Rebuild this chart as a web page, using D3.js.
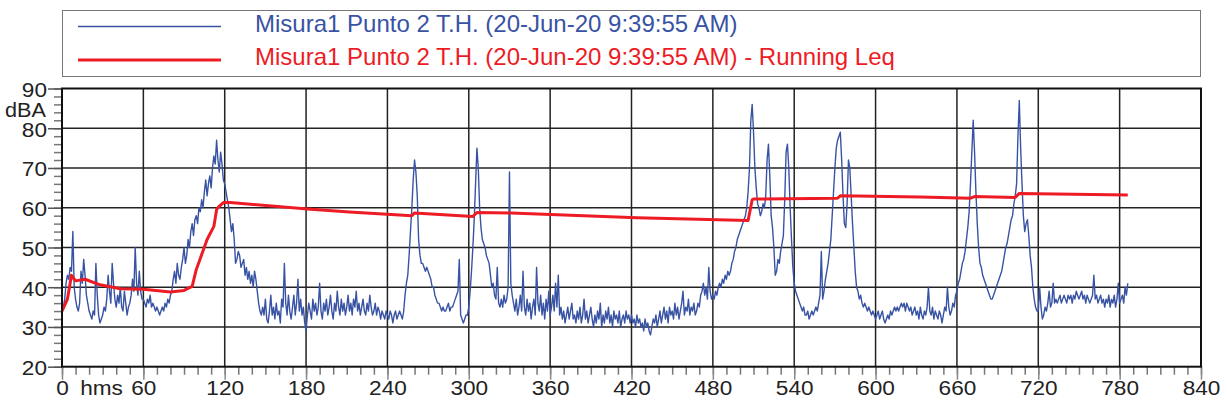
<!DOCTYPE html>
<html><head><meta charset="utf-8">
<script src="https://cdn.jsdelivr.net/npm/d3@7"></script>
<style>
body{margin:0;background:#fff;}
svg{display:block;font-family:"Liberation Sans",Arial,Helvetica,sans-serif;}
</style></head>
<body><svg id="c" width="1227" height="410"></svg>
<script>
// ---- data ----
const seriesNames = ["Misura1 Punto 2 T.H. (20-Jun-20 9:39:55 AM)",
                     "Misura1 Punto 2 T.H. (20-Jun-20 9:39:55 AM) - Running Leq"];
const blueStep = 1; // seconds between samples
const blueValues = [
34,35,37,41,43,42,45,44,54,40,
37,35,34,36,44,41,47,43,38,36,
34,33,32,34,33,46,38,33,31,32,
33,35,34,37,43,39,36,46,41,37,
35,38,36,40,35,34,39,36,33,35,
36,38,42,39,50,41,38,44,39,37,
37,36,35,37,36,38,35,36,35,34,
35,34,33,34,35,34,36,35,37,36,
38,39,42,44,41,46,43,42,45,47,
50,46,48,52,50,54,56,53,57,58,
56,60,59,62,60,64,67,63,66,68,
65,70,73,71,77,72,69,74,71,67,
66,64,62,60,57,54,56,52,46,47,
49,48,45,46,47,43,45,42,44,41,
43,40,44,42,39,36,34,33,35,33,
37,32,31,34,38,33,35,32,36,33,
34,31,37,35,46,36,33,38,34,32,
35,38,33,36,42,34,37,33,35,31,
29,33,36,34,32,37,34,36,33,35,
41,34,32,36,34,37,33,35,38,34,
32,36,34,39,35,33,37,34,36,33,
35,38,34,36,33,37,35,39,34,36,
33,35,37,34,33,36,34,38,35,33,
34,36,33,35,34,32,34,33,32,34,
33,32,34,33,31,33,34,32,33,34,
33,32,34,38,41,43,48,54,60,67,
72,69,63,52,48,46,46,45,44,45,
44,43,42,40,40,38,37,36,36,35,
34,35,34,34,35,36,34,35,35,36,
37,38,39,47,33,32,31,32,33,33,
35,39,44,50,57,66,75,70,60,55,
52,51,50,48,47,46,43,40,41,38,
37,45,36,35,37,35,38,36,37,40,
69,41,38,36,34,37,33,35,38,34,
44,35,33,37,34,36,32,35,37,33,
45,36,34,38,33,36,32,37,34,39,
33,35,38,34,41,35,43,33,35,32,
34,31,33,35,32,34,36,32,33,31,
34,32,35,31,33,37,32,34,31,33,
35,32,30,33,31,34,32,36,30,33,
31,34,32,35,31,33,30,34,32,33,
31,34,30,32,33,31,34,32,33,31,
33,31,32,30,33,31,32,30,31,29,
32,30,31,29,28,30,32,31,33,30,
32,34,31,33,35,32,34,31,35,33,
34,32,36,33,35,32,34,36,39,33,
35,34,37,33,35,34,36,33,34,36,
35,38,39,41,38,40,37,45,39,37,
38,37,39,38,40,41,40,42,41,43,
42,44,43,44,46,47,49,50,52,53,
54,55,56,57,58,60,64,70,82,86,
79,70,65,61,60,58,59,61,60,63,
72,76,68,58,55,50,43,44,47,46,
49,51,53,62,74,76,70,60,52,45,
41,39,38,37,36,35,34,35,33,33,
34,32,33,34,33,34,35,34,36,38,
49,37,39,42,44,46,49,52,58,64,
70,75,77,78,79,72,63,56,55,61,
72,70,63,56,50,44,40,39,37,38,
36,35,36,35,34,35,34,33,34,33,
32,33,34,32,33,34,32,31,32,33,
32,34,33,34,35,34,35,34,35,36,
35,36,34,36,35,34,35,33,34,35,
33,34,32,35,33,32,34,33,35,40,
34,33,35,32,34,33,32,34,33,31,
33,35,34,40,35,33,34,36,35,38,
39,41,42,44,46,47,49,52,55,59,
66,74,82,74,64,56,50,46,45,43,
42,41,40,39,38,37,37,38,39,40,
41,42,43,44,46,48,50,51,53,55,
57,58,61,63,66,78,87,75,66,58,
54,56,57,53,48,45,40,37,35,34,
34,40,35,32,33,35,34,36,39,35,
36,41,36,37,36,37,38,36,37,38,
37,36,38,37,38,36,38,37,39,38,
37,38,39,37,38,36,38,37,36,37,
38,43,37,38,36,37,38,36,37,35,
37,36,38,35,37,36,38,35,37,41,
36,37,38,36,40,38,41
];
const leqTimes  = [0,4,7,10,17,28,43,60,80,90,96,99,107,112,114,115.5,119,124,181,212,258,260,303,306,331,424,506,509,510,572,574,633,670,673,703,706,786];
const leqValues = [34,37,43,41.6,42,40.6,39.6,39.5,38.8,39.2,40.2,44.4,52,55.3,59.5,60.2,61.3,61.3,59.7,58.9,58,58.7,57.8,58.8,58.7,57.5,56.8,62,62.2,62.4,63,62.7,62.4,62.8,62.6,63.6,63.2];
const xTicks = [0,60,120,180,240,300,360,420,480,540,600,660,720,780,840];
const yTicks = [20,30,40,50,60,70,80,90];

// ---- layout ----
const svg = d3.select("#c");
const L = 62, R = 1201, T = 88.5, B = 366.7;
const SX = 1.16; // horizontal stretch of axis lettering
const x = d3.scaleLinear().domain([0,840]).range([L,R]);
const y = d3.scaleLinear().domain([20,90]).range([B,T]);

// legend
svg.append("rect").attr("x",62.5).attr("y",10.5).attr("width",1138).attr("height",66)
   .attr("fill","#fff").attr("stroke","#777").attr("stroke-width",1);
const legColors = ["#3853a4","#ed1c24"], legW=[1.3,3];
seriesNames.forEach((n,i)=>{
  const yy = i===0 ? 26.5 : 60;
  svg.append("line").attr("x1",78).attr("x2",221).attr("y1",yy).attr("y2",yy)
     .attr("stroke",legColors[i]).attr("stroke-width",legW[i]);
  svg.append("text").attr("x",255).attr("y",yy+5).attr("font-size",24)
     .attr("fill",legColors[i]).text(n);
});

// grid
const g = svg.append("g");
g.selectAll("line.v").data(xTicks.slice(1,-1)).join("line")
  .attr("x1",d=>x(d)).attr("x2",d=>x(d)).attr("y1",T).attr("y2",B)
  .attr("stroke","#222").attr("stroke-width",1.5);
g.selectAll("line.h").data(yTicks.slice(1,-1)).join("line")
  .attr("x1",L).attr("x2",R).attr("y1",d=>y(d)).attr("y2",d=>y(d))
  .attr("stroke","#222").attr("stroke-width",1.5);

// axes ticks
const yMinor = d3.range(20,90.1,2);
const xMinor = d3.range(0,840.1,10);
const ya = svg.append("g").attr("transform",`translate(${L},0)`)
  .call(d3.axisLeft(y).tickValues(yMinor).tickSize(8).tickFormat(""));
ya.select(".domain").remove();
ya.selectAll("line").attr("stroke","#777").attr("stroke-width",1.5);
const yaM = svg.append("g").attr("transform",`translate(${L},0)`)
  .call(d3.axisLeft(y).tickValues(yTicks).tickSize(14).tickFormat(d3.format("d")));
yaM.select(".domain").remove();
yaM.selectAll("line").attr("stroke","#555").attr("stroke-width",1.5);
yaM.selectAll("text").attr("font-size",19.5).attr("fill","#222")
   .attr("x",-15/SX).attr("dy","0.4em").attr("transform",`scale(${SX},1)`)
   .attr("font-family","Liberation Sans, Arial, sans-serif");

const xa = svg.append("g").attr("transform",`translate(0,${B})`)
  .call(d3.axisBottom(x).tickValues(xMinor).tickSize(8).tickFormat(""));
xa.select(".domain").remove();
xa.selectAll("line").attr("stroke","#777").attr("stroke-width",1.5);
const xaM = svg.append("g").attr("transform",`translate(0,${B})`)
  .call(d3.axisBottom(x).tickValues(xTicks).tickSize(13).tickPadding(1.5).tickFormat(d3.format("d")));
xaM.select(".domain").remove();
xaM.selectAll("line").attr("stroke","#888").attr("stroke-width",1.5);
xaM.selectAll("text").attr("font-size",19.5).attr("fill","#222")
   .attr("transform",`scale(${SX},1)`)
   .attr("font-family","Liberation Sans, Arial, sans-serif");

svg.append("text").attr("transform",`translate(46,116.5) scale(1.11,1)`).attr("text-anchor","end")
   .attr("font-size",19.5).attr("fill","#222").text("dBA");
svg.append("text").attr("transform",`translate(101.5,395) scale(${SX},1)`).attr("text-anchor","middle")
   .attr("font-size",19.5).attr("fill","#222").text("hms");

// clip
svg.append("clipPath").attr("id","clip").append("rect")
  .attr("x",L).attr("y",T).attr("width",R-L).attr("height",B-T);

const blueData = blueValues.map((v,i)=>[i*blueStep,v]);
svg.append("path").datum(blueData).attr("clip-path","url(#clip)")
  .attr("fill","none").attr("stroke","#3853a4").attr("stroke-width",1.4)
  .attr("stroke-linejoin","round")
  .attr("d",d3.line().x(d=>x(d[0])).y(d=>y(d[1])));
const leqData = leqTimes.map((t,i)=>[t,leqValues[i]]);
svg.append("path").datum(leqData).attr("clip-path","url(#clip)")
  .attr("fill","none").attr("stroke","#ed1c24").attr("stroke-width",3)
  .attr("stroke-linejoin","round")
  .attr("d",d3.line().x(d=>x(d[0])).y(d=>y(d[1])));

// frame
svg.append("rect").attr("x",L).attr("y",T).attr("width",R-L).attr("height",B-T)
  .attr("fill","none").attr("stroke","#111").attr("stroke-width",2);
</script></body></html>
